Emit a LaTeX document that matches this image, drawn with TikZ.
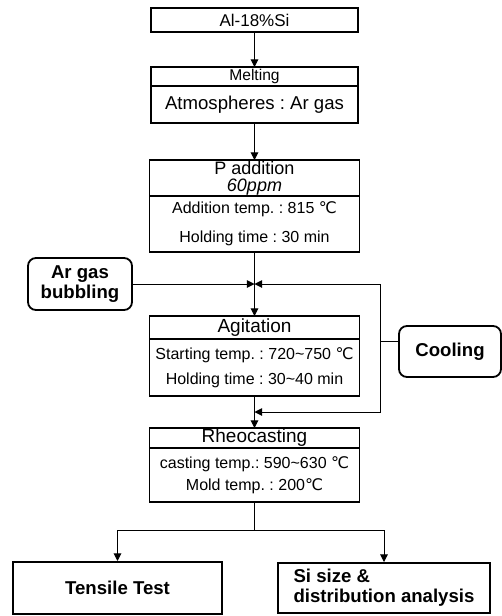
\documentclass[tikz,border=0pt]{standalone}
\usepackage{fontspec}
\setmainfont{Liberation Sans}
\newfontfamily\symfont{DejaVu Sans}
\newcommand{\degC}{{\symfont ℃}}
\usepackage{tikz}
\usetikzlibrary{arrows.meta, positioning, calc}

\begin{document}
\frenchspacing
\begin{tikzpicture}[
      x=1pt, y=1pt,
      box/.style={draw, line width=0.9pt, align=center, inner sep=0.5pt,
                  outer sep=0pt, minimum width=103.5pt},
      wide/.style={box, minimum width=105pt},
      head/.style={font=\fontsize{9.5}{9}\selectfont},
      body/.style={font=\fontsize{8}{12.5}\selectfont},
      side/.style={draw, line width=0.9pt, rounded corners=4pt, align=center,
                   inner sep=0.5pt, font=\bfseries\fontsize{9.3}{10}\selectfont},
      result/.style={draw, line width=0.9pt, align=center, inner sep=0.5pt,
                     minimum height=26pt, font=\bfseries\fontsize{9.3}{10}\selectfont},
      arr/.style={line width=0.5pt, -{Triangle[length=3.8pt, width=3.8pt]}},
      line/.style={line width=0.5pt}]
    \useasboundingbox (0,0) rectangle (251,-308);
    \node[box, minimum height=12pt, font=\fontsize{8.5}{9}\selectfont]
      (alsi) at (127.25,-10) {Al-18\%Si};
    \node[box, minimum height=9.5pt, font=\fontsize{7.8}{8}\selectfont,
      below=17.5pt of alsi] (melt) {Melting};
    \node[box, minimum height=18.5pt, font=\fontsize{9.3}{11}\selectfont,
      below=0pt of melt] (meltc) {Atmospheres : Ar gas};
    \node[wide, minimum height=18pt, font=\fontsize{9}{8.5}\selectfont,
      below=18.5pt of meltc] (padd) {P addition\\\textit{60ppm}};
    \node[wide, body, font=\fontsize{8}{14.5}\selectfont, minimum height=28pt,
      below=0pt of padd] (paddc) {Addition temp. : 815 \degC\\Holding time : 30 min};
    \node[wide, head, minimum height=11.5pt, below=32pt of paddc] (agit) {Agitation};
    \node[wide, body, minimum height=28.5pt, below=0pt of agit] (agitc)
      {Starting temp. : 720\textasciitilde750 \degC\\Holding time : 30\textasciitilde40 min};
    \node[wide, head, minimum height=10pt, below=16pt of agitc] (rheo) {Rheocasting};
    \node[wide, body, font=\fontsize{8}{11}\selectfont, minimum height=27pt,
      below=0pt of rheo] (rheoc) {casting temp.: 590\textasciitilde630 \degC\\Mold temp. : 200\degC};
    \node[side, minimum width=52pt, minimum height=26pt] (argas) at (40,-142)
      {Ar gas\\bubbling};
    \node[side, minimum width=51pt, minimum height=25.5pt] (cool) at (225,-175.75)
      {Cooling};
    \node[result, minimum width=104.5pt, below=29.5pt of rheoc, xshift=-68.5pt]
      (tens) {Tensile Test};
    \node[result, align=left, minimum width=106pt, minimum height=25pt,
      below=30pt of rheoc, xshift=64.75pt] (sisize) {Si size \&\\distribution analysis};
    \draw[arr] (alsi) -- (melt);
    \draw[arr] (meltc) -- (padd);
    \draw[arr] (paddc) -- (agit);
    \draw[arr] (argas) -- (argas -| paddc.south);
    \draw[line] ([yshift=5pt]cool.west) -- ++(-9,0) coordinate (cbend);
    \draw[arr] (cbend) |- (argas -| paddc.south);
    \draw[arr] (agitc) -- (rheo);
    \coordinate (lowjoin) at ($(agitc.south)!0.5!(rheo.north)$);
    \draw[arr] (cbend) |- (lowjoin);
    \draw[line] (rheoc.south) -- ++(0,-14) coordinate (fork);
    \draw[arr] (fork) -| (tens);
    \draw[arr] (fork) -| (sisize);
  \end{tikzpicture}
\end{document}
